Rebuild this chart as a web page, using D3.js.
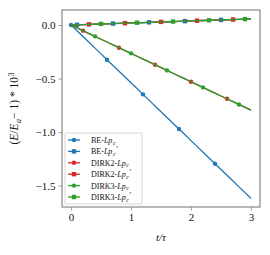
<!DOCTYPE html>
<html>
<head>
<meta charset="utf-8">
<script src="https://cdn.jsdelivr.net/npm/d3@7"></script>
<style>
  body { margin: 0; background: #fff; }
  svg text { font-family: 'Liberation Serif', 'Times New Roman', 'DejaVu Serif', serif; }
</style>
</head>
<body>
<svg width="270" height="255"></svg>
<script>
const tValues = [0.0, 0.1, 0.2, 0.3, 0.4, 0.5, 0.6, 0.7, 0.8, 0.9, 1.0, 1.1, 1.2, 1.3, 1.4, 1.5,
  1.6, 1.7, 1.8, 1.9, 2.0, 2.1, 2.2, 2.3, 2.4, 2.5, 2.6, 2.7, 2.8, 2.9, 3.0];

const beLpc = [0, -0.054, -0.108, -0.162, -0.216, -0.270, -0.324, -0.378, -0.432, -0.486, -0.540,
  -0.594, -0.648, -0.702, -0.756, -0.810, -0.864, -0.918, -0.972, -1.026, -1.080, -1.134, -1.188,
  -1.242, -1.296, -1.350, -1.404, -1.458, -1.512, -1.566, -1.620];
const beLpcP = [0, 0.002, 0.004, 0.006, 0.008, 0.010, 0.011, 0.013, 0.015, 0.017, 0.019, 0.021,
  0.023, 0.025, 0.027, 0.029, 0.030, 0.032, 0.034, 0.036, 0.038, 0.040, 0.042, 0.044, 0.046, 0.048,
  0.049, 0.051, 0.053, 0.055, 0.057];
const dirk2Lpc = [0, -0.027, -0.053, -0.080, -0.106, -0.133, -0.159, -0.186, -0.212, -0.239, -0.265,
  -0.292, -0.318, -0.345, -0.371, -0.398, -0.424, -0.451, -0.477, -0.504, -0.530, -0.557, -0.583,
  -0.610, -0.636, -0.663, -0.689, -0.716, -0.742, -0.769, -0.795];
const dirk2LpcP = [0, 0.002, 0.004, 0.006, 0.008, 0.010, 0.011, 0.013, 0.015, 0.017, 0.019, 0.021,
  0.023, 0.025, 0.027, 0.029, 0.030, 0.032, 0.034, 0.036, 0.038, 0.040, 0.042, 0.044, 0.046, 0.048,
  0.049, 0.051, 0.053, 0.055, 0.057];
const dirk3Lpc = [0, -0.027, -0.053, -0.080, -0.106, -0.133, -0.159, -0.186, -0.212, -0.239, -0.265,
  -0.292, -0.318, -0.345, -0.371, -0.398, -0.424, -0.451, -0.477, -0.504, -0.530, -0.557, -0.583,
  -0.610, -0.636, -0.663, -0.689, -0.716, -0.742, -0.769, -0.795];
const dirk3LpcP = [0, 0.002, 0.004, 0.006, 0.008, 0.010, 0.011, 0.013, 0.015, 0.017, 0.019, 0.021,
  0.023, 0.025, 0.027, 0.029, 0.030, 0.032, 0.034, 0.036, 0.038, 0.040, 0.042, 0.044, 0.046, 0.048,
  0.049, 0.051, 0.053, 0.055, 0.057];

const xTicks = [0, 1, 2, 3];
const yTicks = [0.0, -0.5, -1.0, -1.5];

// method name, primed?, values, colour, marker, marker offset
const series = [
  { method: 'BE', prime: false, values: beLpc, color: '#1f77b4', marker: 'circle', offset: 0 },
  { method: 'BE', prime: true, values: beLpcP, color: '#1f77b4', marker: 'square', offset: 1 },
  { method: 'DIRK2', prime: false, values: dirk2Lpc, color: '#d62728', marker: 'circle', offset: 2 },
  { method: 'DIRK2', prime: true, values: dirk2LpcP, color: '#d62728', marker: 'square', offset: 3 },
  { method: 'DIRK3', prime: false, values: dirk3Lpc, color: '#2ca02c', marker: 'circle', offset: 4 },
  { method: 'DIRK3', prime: true, values: dirk3LpcP, color: '#2ca02c', marker: 'square', offset: 5 }
];

const svg = d3.select('svg');
const margin = { top: 10, right: 10, bottom: 48, left: 62 };
const innerWidth = +svg.attr('width') - margin.left - margin.right;
const innerHeight = +svg.attr('height') - margin.top - margin.bottom;

const xScale = d3.scaleLinear().domain([-0.15, 3.15]).range([0, innerWidth]);
const yScale = d3.scaleLinear().domain([-1.70, 0.14]).range([innerHeight, 0]);

const g = svg.append('g')
  .attr('transform', `translate(${margin.left},${margin.top})`);

const spineColor = '#888';
const fmt = d => d3.format('.1f')(d).replace('-', '\u2212');

const xAxisG = g.append('g')
  .attr('transform', `translate(0,${innerHeight})`)
  .call(d3.axisBottom(xScale).tickValues(xTicks).tickFormat(d3.format('d')).tickSize(3.5).tickPadding(3));
const yAxisG = g.append('g')
  .call(d3.axisLeft(yScale).tickValues(yTicks).tickFormat(fmt).tickSize(3.5).tickPadding(3));

[xAxisG, yAxisG].forEach(ax => {
  ax.attr('font-family', null).attr('font-size', null);
  ax.select('.domain').remove();
  ax.selectAll('.tick line').attr('stroke', spineColor).attr('stroke-width', 0.8);
  ax.selectAll('.tick text')
    .attr('fill', '#111')
    .style('font-size', '11px');
});

const markerIdx = (s) => tValues.map((t, i) => i).filter(i => i >= s.offset && (i - s.offset) % 6 === 0 && i < tValues.length - 1);

const line = d3.line()
  .x((d, i) => xScale(tValues[i]))
  .y(d => yScale(d));

series.forEach(s => {
  g.append('path')
    .datum(s.values)
    .attr('fill', 'none')
    .attr('stroke', s.color)
    .attr('stroke-width', 1.3)
    .attr('d', line);

  const idx = markerIdx(s);
  if (s.marker === 'circle') {
    g.selectAll(null).data(idx).enter().append('circle')
      .attr('cx', i => xScale(tValues[i]))
      .attr('cy', i => yScale(s.values[i]))
      .attr('r', 2.2)
      .attr('fill', s.color);
  } else {
    g.selectAll(null).data(idx).enter().append('rect')
      .attr('x', i => xScale(tValues[i]) - 2.2)
      .attr('y', i => yScale(s.values[i]) - 2.2)
      .attr('width', 4.4)
      .attr('height', 4.4)
      .attr('fill', s.color);
  }
});

// frame
g.append('rect')
  .attr('width', innerWidth)
  .attr('height', innerHeight)
  .attr('fill', 'none')
  .attr('stroke', spineColor)
  .attr('stroke-width', 1.2);

// lay out pieces of a label (for sub/superscripts) as separate texts side by side
const richText = (parent, pieces, size) => {
  let x = 0;
  pieces.forEach(p => {
    x += p.gap || 0;
    const t = parent.append('text')
      .attr('x', x)
      .attr('y', p.dy || 0)
      .attr('fill', '#111')
      .style('font-size', (p.size || size) + 'px')
      .style('font-style', p.italic ? 'italic' : 'normal')
      .text(p.text);
    x += t.node().getComputedTextLength();
  });
  return x;
};

// legend
const legend = g.append('g').attr('transform', 'translate(3,123)');
legend.append('rect')
  .attr('width', 77)
  .attr('height', 71)
  .attr('fill', '#fff')
  .attr('fill-opacity', 0.8)
  .attr('stroke', '#ccc')
  .attr('stroke-width', 0.8)
  .attr('rx', 1);

series.forEach((s, k) => {
  const row = legend.append('g').attr('transform', `translate(0,${7 + k * 11.4})`);
  row.append('line')
    .attr('x1', 3).attr('x2', 15)
    .attr('stroke', s.color).attr('stroke-width', 1.3);
  if (s.marker === 'circle') {
    row.append('circle').attr('cx', 9).attr('r', 2.2).attr('fill', s.color);
  } else {
    row.append('rect').attr('x', 6.8).attr('y', -2.2).attr('width', 4.4).attr('height', 4.4).attr('fill', s.color);
  }
  const label = row.append('g').attr('transform', 'translate(26,3)');
  const pieces = [
    { text: s.method + '-' },
    { text: 'Lp', italic: true },
    { text: 'c', italic: true, size: 6, dy: 1.5, gap: 0.6 }
  ];
  if (s.prime) pieces.push({ text: '\u2032', dy: -2, gap: 0.6 });
  richText(label, pieces, 8);
});

// axis labels
g.append('text')
  .attr('x', xScale(1.5))
  .attr('y', innerHeight + 34)
  .attr('text-anchor', 'middle')
  .style('font-size', '11px')
  .style('font-style', 'italic')
  .attr('fill', '#111')
  .text('t/\u03c4');

const yLabel = g.append('g');
const yLabelWidth = richText(yLabel, [
  { text: '(' },
  { text: 'E', italic: true },
  { text: '/' },
  { text: 'E', italic: true },
  { text: 'a', italic: true, size: 8, dy: 2.5, gap: 0.5 },
  { text: ' \u2212 1) * 10' },
  { text: '3', size: 8, dy: -4.5, gap: 0.5 }
], 11.5);
yLabel.attr('transform', `translate(-44,${innerHeight / 2 + yLabelWidth / 2}) rotate(-90)`);
</script>
</body>
</html>
